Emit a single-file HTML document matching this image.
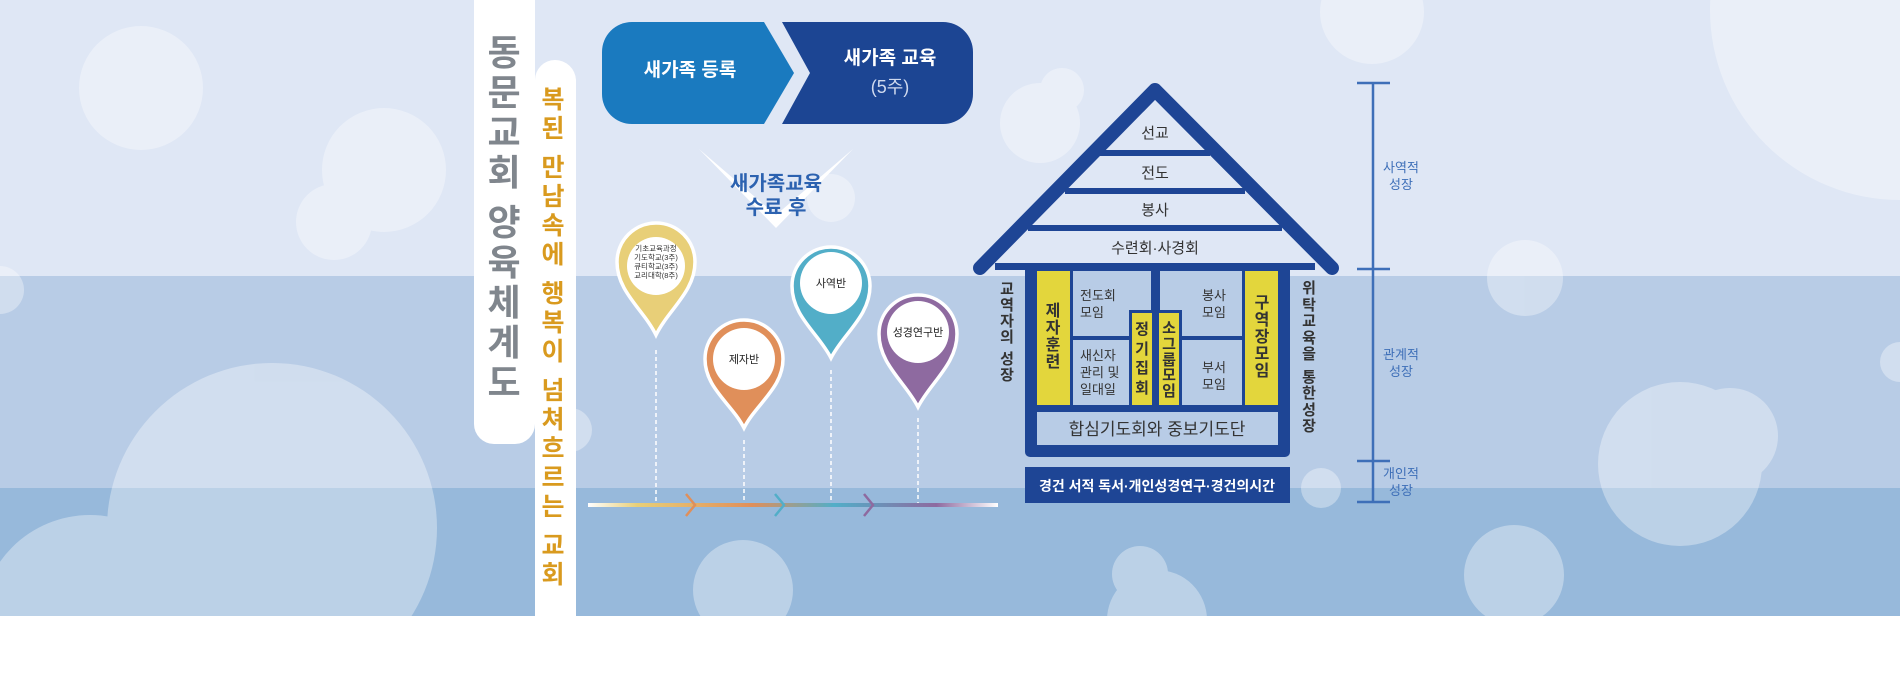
<!DOCTYPE html>
<html><head><meta charset="utf-8"><style>
body{margin:0;width:1900px;height:700px;overflow:hidden;background:#fff;font-family:"Liberation Sans","Noto Sans CJK KR",sans-serif}
.c{position:absolute;width:60px;text-align:center;white-space:nowrap}
.c i{display:block;font-style:normal}
</style></head><body>
<svg width="1900" height="700" style="position:absolute;left:0;top:0" font-family="Liberation Sans, Noto Sans CJK KR, sans-serif">
<defs>
<linearGradient id="tl" x1="0" x2="1">
<stop offset="0" stop-color="#fff"/><stop offset="0.12" stop-color="#e8cf78"/><stop offset="0.4" stop-color="#e08f5a"/><stop offset="0.6" stop-color="#52aec8"/><stop offset="0.85" stop-color="#8e6aa0"/><stop offset="1" stop-color="#fff"/>
</linearGradient>
</defs>
<rect x="0" y="0" width="1900" height="276" fill="#dfe7f5"/>
<rect x="0" y="276" width="1900" height="212" fill="#b8cce6"/>
<rect x="0" y="488" width="1900" height="128" fill="#97b9db"/>
<g fill="#fff" opacity="0.35">
<circle cx="141" cy="88" r="62"/><circle cx="384" cy="170" r="62"/><circle cx="334" cy="222" r="38"/><circle cx="0" cy="290" r="24"/>
<circle cx="272" cy="528" r="165"/><circle cx="90" cy="625" r="110"/><circle cx="1040" cy="123" r="40"/><circle cx="1062" cy="90" r="22"/>
<circle cx="1372" cy="12" r="52"/><circle cx="1900" cy="10" r="190"/><circle cx="1525" cy="278" r="38"/><circle cx="1680" cy="464" r="82"/>
<circle cx="1730" cy="436" r="48"/><circle cx="1514" cy="575" r="50"/><circle cx="1140" cy="574" r="28"/><circle cx="1157" cy="620" r="50"/>
<circle cx="743" cy="590" r="50"/><circle cx="831" cy="198" r="24"/><circle cx="1321" cy="488" r="20"/><circle cx="1900" cy="362" r="20"/><circle cx="570" cy="430" r="22"/>
</g>
<rect x="0" y="616" width="1900" height="84" fill="#fff"/>
<!-- pillars -->
<path d="M474 0 H535 V424 A20 20 0 0 1 515 444 H494 A20 20 0 0 1 474 424 Z" fill="#fff"/>
<path d="M535 80 A20 20 0 0 1 555 60 A21 21 0 0 1 576 80 V616 H535 Z" fill="#fff"/>
<!-- chevrons -->
<path d="M632 22 H764 L794 73 L764 124 H632 A30 30 0 0 1 602 94 V52 A30 30 0 0 1 632 22 Z" fill="#1a7abf"/>
<path d="M782 22 H943 A30 30 0 0 1 973 52 V94 A30 30 0 0 1 943 124 H782 L810 73 Z" fill="#1c4593"/>
<text x="690" y="76" fill="#fff" font-size="19" font-weight="bold" text-anchor="middle">새가족 등록</text>
<text x="890" y="64" fill="#fff" font-size="19" font-weight="bold" text-anchor="middle">새가족 교육</text>
<text x="890" y="93" fill="#cfd9ee" font-size="18" text-anchor="middle">(5주)</text>
<path d="M699 149 L776 215 L853 149 L776 228 Z" fill="#fff"/>
<text x="776" y="190" fill="#2c62b0" font-size="20" font-weight="bold" text-anchor="middle">새가족교육</text>
<text x="776" y="214" fill="#2c62b0" font-size="20" font-weight="bold" text-anchor="middle">수료 후</text>
<!-- dashed lines -->
<g stroke="#fff" stroke-width="1.5" stroke-dasharray="4 3">
<line x1="656" y1="350" x2="656" y2="505"/><line x1="744" y1="440" x2="744" y2="505"/>
<line x1="831" y1="370" x2="831" y2="505"/><line x1="918" y1="418" x2="918" y2="505"/>
</g>
<rect x="588" y="503" width="410" height="4" fill="url(#tl)"/>
<g fill="none" stroke-width="2.5">
<path d="M686 494 L695 505 L686 516" stroke="#e08f5a"/><path d="M775 494 L784 505 L775 516" stroke="#52aec8"/><path d="M864 494 L873 505 L864 516" stroke="#8e6aa0"/>
</g>
<!-- pins -->
<g stroke="#fff" stroke-width="3.5">
<path d="M656 335 C644 310 617 292 617 262 A39 39 0 0 1 695 262 C695 292 668 310 656 335 Z" fill="#e8cf78"/>
<path d="M744 428 C732 404 705 388 705 359 A39 39 0 0 1 783 359 C783 388 756 404 744 428 Z" fill="#e08f5a"/>
<path d="M831 358 C819 334 792 316 792 286 A39 39 0 0 1 870 286 C870 316 843 334 831 358 Z" fill="#52aec8"/>
<path d="M918 407 C906 383 879 364 879 334 A39 39 0 0 1 957 334 C957 364 930 383 918 407 Z" fill="#8e6aa0"/>
</g>
<g fill="#fff"><circle cx="656" cy="266" r="29"/><circle cx="744" cy="359" r="31"/><circle cx="831" cy="283" r="31"/><circle cx="918" cy="332" r="31"/></g>
<g font-size="7.5" fill="#333" text-anchor="middle"><text x="656" y="251">기초교육과정</text><text x="656" y="260">기도학교(3주)</text><text x="656" y="269">큐티학교(3주)</text><text x="656" y="278">교리대학(8주)</text></g>
<g font-size="11" fill="#222" text-anchor="middle"><text x="744" y="363">제자반</text><text x="831" y="287">사역반</text><text x="918" y="336">성경연구반</text></g>
<!-- house -->
<g stroke="#1e4595" stroke-width="14" stroke-linecap="round" stroke-linejoin="round" fill="none"><path d="M980 268 L1155 90 L1332 268"/></g>
<g fill="#1e4595">
<rect x="1100" y="150" width="110" height="6"/><rect x="1065" y="188" width="180" height="6"/><rect x="1028" y="225" width="254" height="6"/><rect x="995" y="263" width="320" height="7"/>
<path d="M1025 268 H1290 V452 A5 5 0 0 1 1285 457 H1030 A5 5 0 0 1 1025 452 Z"/>
<rect x="1025" y="467" width="265" height="36"/>
</g>
<rect x="1073" y="340" width="56" height="65" fill="#b8cce6"/><rect x="1182" y="340" width="60" height="65" fill="#b8cce6"/>
<rect x="1073" y="271" width="78" height="65" fill="#b8cce6"/><rect x="1160" y="271" width="82" height="65" fill="#b8cce6"/>
<rect x="1153" y="271" width="6" height="45" fill="#1e4595"/>
<rect x="1073" y="336" width="56" height="4" fill="#1e4595"/><rect x="1182" y="336" width="60" height="4" fill="#1e4595"/>
<rect x="1129" y="310" width="53" height="95" fill="#1e4595"/>
<g fill="#e3d63c"><rect x="1037" y="271" width="33" height="134"/><rect x="1245" y="271" width="33" height="134"/><rect x="1132" y="313" width="20" height="92"/><rect x="1159" y="313" width="20" height="92"/></g>
<rect x="1037" y="412" width="241" height="33" fill="#b8cce6"/>
<g fill="#333" font-size="15" text-anchor="middle"><text x="1155" y="138">선교</text><text x="1155" y="178">전도</text><text x="1155" y="215">봉사</text><text x="1155" y="253">수련회·사경회</text></g>
<g fill="#333" font-size="13"><text x="1080" y="300">전도회</text><text x="1080" y="317">모임</text><text x="1080" y="360">새신자</text><text x="1080" y="377">관리 및</text><text x="1080" y="394">일대일</text>
<text x="1202" y="300">봉사</text><text x="1202" y="317">모임</text><text x="1202" y="372">부서</text><text x="1202" y="389">모임</text></g>
<text x="1157" y="435" fill="#333" font-size="17" text-anchor="middle">합심기도회와 중보기도단</text>
<text x="1157" y="491" fill="#fff" font-size="14" font-weight="bold" text-anchor="middle">경건 서적 독서·개인성경연구·경건의시간</text>
<!-- scale -->
<g stroke="#3e6fb8" stroke-width="2.5"><line x1="1373" y1="83" x2="1373" y2="502"/><line x1="1357" y1="83" x2="1390" y2="83"/><line x1="1357" y1="269" x2="1390" y2="269"/><line x1="1357" y1="461" x2="1390" y2="461"/><line x1="1357" y1="502" x2="1390" y2="502"/></g>
<g fill="#3e6fb8" font-size="13" text-anchor="middle"><text x="1401" y="172">사역적</text><text x="1401" y="189">성장</text><text x="1401" y="359">관계적</text><text x="1401" y="376">성장</text><text x="1401" y="478">개인적</text><text x="1401" y="495">성장</text></g>
</svg>
<div class="c" style="left:474px;top:33px;font-size:36px;font-weight:bold;color:#80868d;line-height:40px"><i>동</i><i>문</i><i>교</i><i>회</i><i style="height:10px"></i><i>양</i><i>육</i><i>체</i><i>계</i><i>도</i></div>
<div class="c" style="left:523px;top:86px;font-size:25px;font-weight:bold;color:#d99a1e;line-height:29px"><i>복</i><i>된</i><i style="height:10px"></i><i>만</i><i>남</i><i>속</i><i>에</i><i style="height:10px"></i><i>행</i><i>복</i><i>이</i><i style="height:10px"></i><i>넘</i><i>쳐</i><i>흐</i><i>르</i><i>는</i><i style="height:10px"></i><i>교</i><i>회</i></div>
<div class="c" style="left:1023px;top:303px;font-size:16px;font-weight:bold;color:#333;line-height:17px"><i>제</i><i>자</i><i>훈</i><i>련</i></div>
<div class="c" style="left:1232px;top:295px;font-size:16px;font-weight:bold;color:#333;line-height:17px"><i>구</i><i>역</i><i>장</i><i>모</i><i>임</i></div>
<div class="c" style="left:1112px;top:320px;font-size:15px;font-weight:bold;color:#333;line-height:19.5px"><i>정</i><i>기</i><i>집</i><i>회</i></div>
<div class="c" style="left:1139px;top:321px;font-size:15px;font-weight:bold;color:#333;line-height:15.8px"><i>소</i><i>그</i><i>룹</i><i>모</i><i>임</i></div>
<div class="c" style="left:977px;top:282px;font-size:15px;font-weight:bold;color:#333;line-height:16px"><i>교</i><i>역</i><i>자</i><i>의</i><i style="height:6px"></i><i>성</i><i>장</i></div>
<div class="c" style="left:1279px;top:281px;font-size:15px;font-weight:bold;color:#333;line-height:16.5px"><i>위</i><i>탁</i><i>교</i><i>육</i><i>을</i><i style="height:6px"></i><i>통</i><i>한</i><i>성</i><i>장</i></div>
</body></html>
